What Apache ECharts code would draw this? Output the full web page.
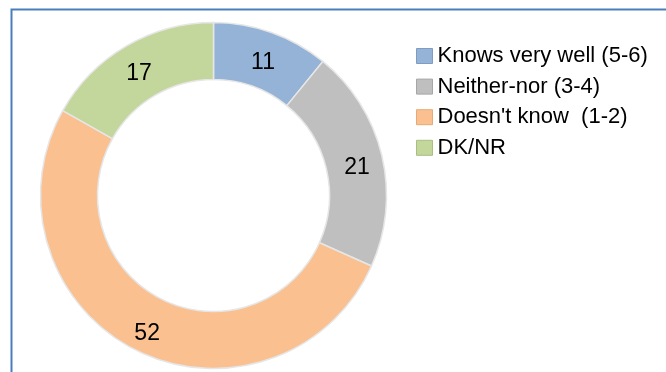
<!DOCTYPE html>
<html>
<head>
<meta charset="utf-8">
<script src="https://cdn.jsdelivr.net/npm/echarts@6/dist/echarts.min.js"></script>
<style>
  html, body { margin: 0; padding: 0; background: #fff; }
  #chart { width: 666px; height: 372px; }
</style>
</head>
<body>
<div id="chart"></div>
<script>
// Answer categories and their shares (%)
const categories = ['Knows very well (5-6)', 'Neither-nor (3-4)', 'Doesn\'t know  (1-2)', 'DK/NR'];
const values = [11, 21, 52, 17];
const colors = ['#95b3d7', '#bfbfbf', '#fac090', '#c3d69b'];
const legendBorders = ['#7f9cc4', '#a6a6a6', '#e8a978', '#a9bf82'];

const fontFamily = '"Liberation Sans", Arial, sans-serif';

const chart = echarts.init(document.getElementById('chart'), null, { renderer: 'canvas' });

chart.setOption({
  animation: false,
  graphic: [{
    type: 'rect',
    shape: { x: 11.5, y: 9.5, width: 720, height: 420 },
    style: { fill: 'none', stroke: '#4a7ebb', lineWidth: 2 },
    z: 10
  }],
  legend: {
    orient: 'vertical',
    left: 416,
    top: 45,
    padding: 0,
    itemWidth: 16,
    itemHeight: 15,
    itemGap: 8.6,
    icon: 'rect',
    textStyle: { fontFamily, fontSize: 22, lineHeight: 22, color: '#000', padding: 0 },
    data: categories.map((name, i) => ({
      name,
      itemStyle: { color: colors[i], borderColor: legendBorders[i], borderWidth: 1 }
    }))
  },
  series: [{
    type: 'pie',
    center: [213.5, 195.5],
    radius: [116, 173],
    startAngle: 90,
    clockwise: true,
    avoidLabelOverlap: false,
    label: {
      show: true,
      position: 'inside',
      // empty first line drops the value a little below the ring's mid-line
      formatter: p => '\n' + p.value,
      lineHeight: 12,
      fontFamily,
      fontSize: 23,
      color: '#000'
    },
    labelLine: { show: false },
    emphasis: { disabled: true },
    itemStyle: { borderColor: '#e6e6e6', borderWidth: 1.5 },
    data: categories.map((name, i) => ({
      name,
      value: values[i],
      itemStyle: { color: colors[i] }
    }))
  }]
});
</script>
</body>
</html>
